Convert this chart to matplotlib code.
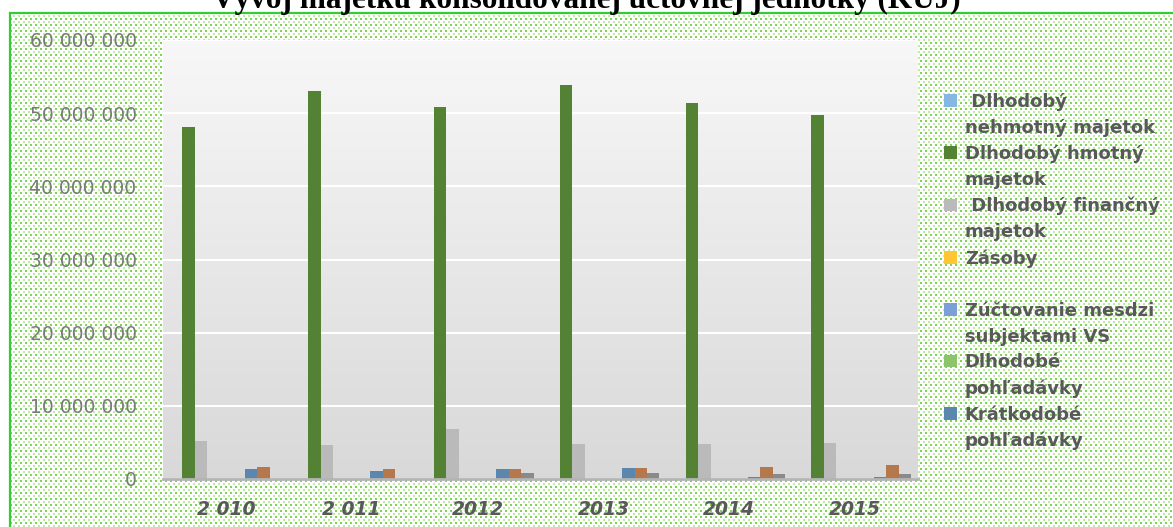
import numpy as np
import matplotlib.pyplot as plt
from matplotlib.patches import Patch, Rectangle

# values (EUR)
years = ['2 010', '2 011', '2012', '2013', '2014', '2015']
nehmotny = [0, 0, 0, 0, 0, 0]
hmotny = [48.1e6, 53.0e6, 50.8e6, 53.8e6, 51.4e6, 49.7e6]
financny = [5.2e6, 4.6e6, 6.8e6, 4.8e6, 4.8e6, 4.9e6]
zasoby = [0, 0, 0, 0, 0, 0]
zuctovanie = [0, 0, 0, 0, 0, 0]
dlh_pohl = [0, 0, 0, 0, 0, 0]
krat_pohl = [1.3e6, 1.1e6, 1.3e6, 1.45e6, 0.3e6, 0.3e6]
fin_ucty = [1.6e6, 1.3e6, 1.3e6, 1.45e6, 1.6e6, 1.9e6]
cas_rozl = [0, 0, 0.8e6, 0.8e6, 0.65e6, 0.65e6]

yticks = [0, 10e6, 20e6, 30e6, 40e6, 50e6, 60e6]
ytick_labels = ['0', '10 000 000', '20 000 000', '30 000 000',
                '40 000 000', '50 000 000', '60 000 000']

series = [
    (' Dlhodobý\nnehmotný majetok', nehmotny, '#85b7e2'),
    ('Dlhodobý hmotný\nmajetok', hmotny, '#548235'),
    (' Dlhodobý finančný\nmajetok', financny, '#bababa'),
    ('Zásoby\n', zasoby, '#ffc533'),
    ('Zúčtovanie mesdzi\nsubjektami VS', zuctovanie, '#7b9fd6'),
    ('Dlhodobé\npohľadávky', dlh_pohl, '#8cc46c'),
    ('Krátkodobé\npohľadávky', krat_pohl, '#5b87ae'),
    ('Finančné účty', fin_ucty, '#b5784c'),
    ('Časové rozlíšenie', cas_rozl, '#8a8a8a'),
]

W, H = 1173, 527
fig = plt.figure(figsize=(W / 100, H / 100), dpi=100)

# dotted green background inside the frame
bg = np.ones((H, W, 3))
yy, xx = np.mgrid[0:H, 0:W]
dots1 = (yy % 6 < 2) & (xx % 5 < 2)
dots2 = ((yy % 6 == 3) | (yy % 6 == 4)) & ((xx + 2) % 5 < 2)
bg[dots1] = np.array([0x7c, 0xd6, 0x52]) / 255
bg[dots2] = np.array([0xc0, 0xea, 0xa8]) / 255
bg[:14, :] = 1
bg[:, :11] = 1
fig.figimage(bg, 0, 0, zorder=-10, origin='upper')
fig.patches.append(Rectangle((10 / W, -0.05), 1.2, 1 - 13 / H + 0.05, transform=fig.transFigure,
                             fill=False, edgecolor='#33cc33', linewidth=1.6, zorder=-5))

ax = fig.add_axes([163 / W, 1 - 479 / H, (918 - 163) / W, (479 - 40) / H])
ax.set_facecolor('none')

# gradient plot area
grad = np.linspace(0.97, 0.85, 256).reshape(-1, 1)
ax.imshow(np.dstack([grad, grad, grad]), extent=[-0.5, 5.5, 0, 60e6],
          aspect='auto', zorder=0, origin='upper')

x = np.arange(len(years))
n = len(series)
w = 0.099
for i, (name, vals, col) in enumerate(series):
    ax.bar(x + (i - (n - 1) / 2) * w, vals, width=w, color=col, zorder=3)

ax.set_xlim(-0.5, 5.5)
ax.set_ylim(0, 60e6)
ax.set_yticks(yticks)
ax.set_yticklabels(ytick_labels)
ax.set_xticks(x)
ax.set_xticklabels(years, fontsize=13.5, fontweight='bold', fontstyle='italic', color='#595959')
ax.tick_params(axis='y', length=0, pad=19, labelsize=13.5, labelcolor='#7a7a7a')
ax.tick_params(axis='x', length=0, pad=15)
ax.grid(axis='y', color='white', linewidth=1.5, zorder=1)
ax.set_axisbelow(False)
for s in ['top', 'right', 'left']:
    ax.spines[s].set_visible(False)
ax.spines['bottom'].set_color('#b4b4b4')
ax.spines['bottom'].set_linewidth(2)
ax.spines['bottom'].set_zorder(4)

# legend: one row per text line, marker on first line only
handles, labels = [], []
for name, vals, col in series[:7]:
    lines = name.split('\n')
    handles.append(Patch(facecolor=col))
    labels.append(lines[0])
    for extra in lines[1:]:
        handles.append(Patch(facecolor='none', edgecolor='none'))
        labels.append(extra if extra else ' ')
leg = fig.legend(handles, labels, loc='upper left', bbox_to_anchor=(944 / W, 1 - 93 / H),
                 frameon=False, borderpad=0, borderaxespad=0, handlelength=0.7,
                 handleheight=0.7, handletextpad=0.45, labelspacing=0.44,
                 prop={'size': 13, 'weight': 'bold'})
for t in leg.get_texts():
    t.set_color('#595959')

fig.text(0.5, 1 - 8 / H, 'Vývoj majetku konsolidovanej účtovnej jednotky (KÚJ)',
         ha='center', va='baseline', fontsize=22.5, fontweight='bold',
         family='Liberation Serif')

fig.savefig('out.png', dpi=100)
